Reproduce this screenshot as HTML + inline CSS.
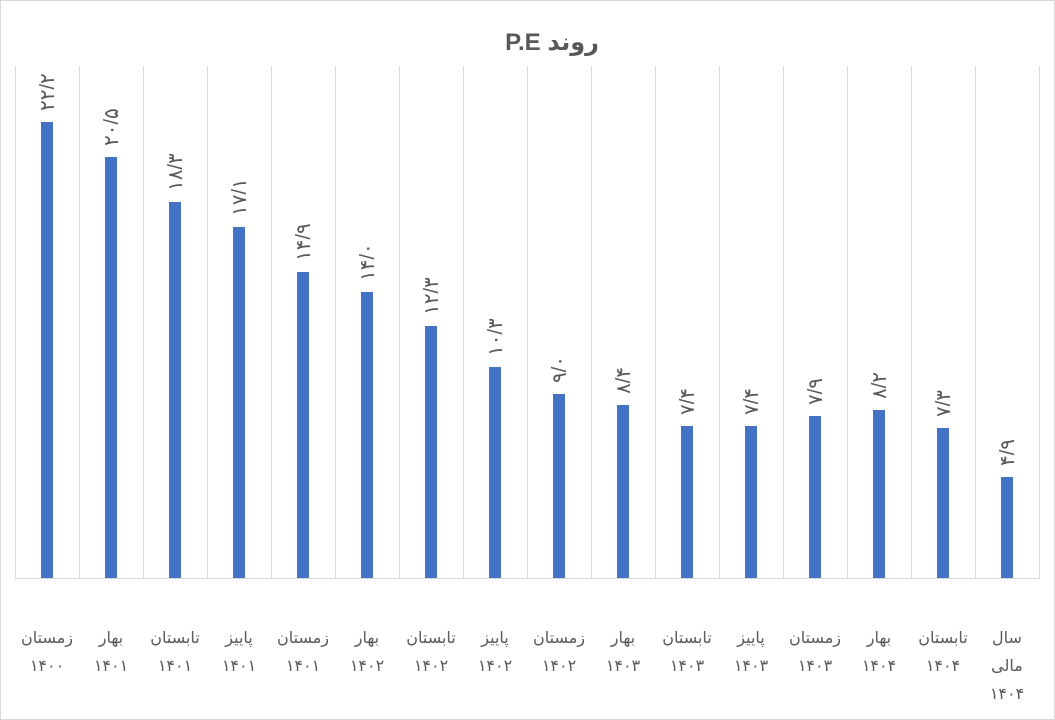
<!DOCTYPE html>
<html><head><meta charset="utf-8"><style>
html,body{margin:0;padding:0;background:#fff}
svg{display:block}
text{font-family:"Liberation Sans","DejaVu Sans",sans-serif;fill:#595959}
.v{unicode-bidi:bidi-override;direction:ltr;font-size:20px;letter-spacing:2px}
</style></head><body>
<svg width="1055" height="720" viewBox="0 0 1055 720" xmlns="http://www.w3.org/2000/svg">
<rect x="0.5" y="0.5" width="1054" height="719" fill="#fff" stroke="#d9d9d9"/>
<text x="552" y="50" text-anchor="middle" font-size="24" font-weight="bold" direction="rtl">روند P.E</text>
<g stroke="#d9d9d9" stroke-width="1">
<line x1="15.5" y1="66" x2="15.5" y2="578"/><line x1="79.5" y1="66" x2="79.5" y2="578"/><line x1="143.5" y1="66" x2="143.5" y2="578"/><line x1="207.5" y1="66" x2="207.5" y2="578"/><line x1="271.5" y1="66" x2="271.5" y2="578"/><line x1="335.5" y1="66" x2="335.5" y2="578"/><line x1="399.5" y1="66" x2="399.5" y2="578"/><line x1="463.5" y1="66" x2="463.5" y2="578"/><line x1="527.5" y1="66" x2="527.5" y2="578"/><line x1="591.5" y1="66" x2="591.5" y2="578"/><line x1="655.5" y1="66" x2="655.5" y2="578"/><line x1="719.5" y1="66" x2="719.5" y2="578"/><line x1="783.5" y1="66" x2="783.5" y2="578"/><line x1="847.5" y1="66" x2="847.5" y2="578"/><line x1="911.5" y1="66" x2="911.5" y2="578"/><line x1="975.5" y1="66" x2="975.5" y2="578"/><line x1="1039.5" y1="66" x2="1039.5" y2="578"/>
<line x1="15" y1="578.5" x2="1040" y2="578.5"/>
</g>
<g fill="#4472c4">
<rect x="41" y="122" width="12" height="456"/>
<rect x="105" y="157" width="12" height="421"/>
<rect x="169" y="202" width="12" height="376"/>
<rect x="233" y="227" width="12" height="351"/>
<rect x="297" y="272" width="12" height="306"/>
<rect x="361" y="292" width="12" height="286"/>
<rect x="425" y="326" width="12" height="252"/>
<rect x="489" y="367" width="12" height="211"/>
<rect x="553" y="394" width="12" height="184"/>
<rect x="617" y="405" width="12" height="173"/>
<rect x="681" y="426" width="12" height="152"/>
<rect x="745" y="426" width="12" height="152"/>
<rect x="809" y="416" width="12" height="162"/>
<rect x="873" y="410" width="12" height="168"/>
<rect x="937" y="428" width="12" height="150"/>
<rect x="1001" y="477" width="12" height="101"/>
</g>
<g>
<text class="v" transform="translate(54,111) rotate(-90)">۲۲/۲</text>
<text class="v" transform="translate(118,146) rotate(-90)">۲۰/۵</text>
<text class="v" transform="translate(182,191) rotate(-90)">۱۸/۳</text>
<text class="v" transform="translate(246,216) rotate(-90)">۱۷/۱</text>
<text class="v" transform="translate(310,261) rotate(-90)">۱۴/۹</text>
<text class="v" transform="translate(374,281) rotate(-90)">۱۴/۰</text>
<text class="v" transform="translate(438,315) rotate(-90)">۱۲/۳</text>
<text class="v" transform="translate(502,356) rotate(-90)">۱۰/۳</text>
<text class="v" transform="translate(566,383) rotate(-90)">۹/۰</text>
<text class="v" transform="translate(630,394) rotate(-90)">۸/۴</text>
<text class="v" transform="translate(694,415) rotate(-90)">۷/۴</text>
<text class="v" transform="translate(758,415) rotate(-90)">۷/۴</text>
<text class="v" transform="translate(822,405) rotate(-90)">۷/۹</text>
<text class="v" transform="translate(886,399) rotate(-90)">۸/۲</text>
<text class="v" transform="translate(950,417) rotate(-90)">۷/۳</text>
<text class="v" transform="translate(1014,466) rotate(-90)">۴/۹</text>
</g>
<g font-size="16" text-anchor="middle" direction="rtl">
<text x="47" y="643">زمستان</text><text x="47" y="671">۱۴۰۰</text>
<text x="111" y="643">بهار</text><text x="111" y="671">۱۴۰۱</text>
<text x="175" y="643">تابستان</text><text x="175" y="671">۱۴۰۱</text>
<text x="239" y="643">پاییز</text><text x="239" y="671">۱۴۰۱</text>
<text x="303" y="643">زمستان</text><text x="303" y="671">۱۴۰۱</text>
<text x="367" y="643">بهار</text><text x="367" y="671">۱۴۰۲</text>
<text x="431" y="643">تابستان</text><text x="431" y="671">۱۴۰۲</text>
<text x="495" y="643">پاییز</text><text x="495" y="671">۱۴۰۲</text>
<text x="559" y="643">زمستان</text><text x="559" y="671">۱۴۰۲</text>
<text x="623" y="643">بهار</text><text x="623" y="671">۱۴۰۳</text>
<text x="687" y="643">تابستان</text><text x="687" y="671">۱۴۰۳</text>
<text x="751" y="643">پاییز</text><text x="751" y="671">۱۴۰۳</text>
<text x="815" y="643">زمستان</text><text x="815" y="671">۱۴۰۳</text>
<text x="879" y="643">بهار</text><text x="879" y="671">۱۴۰۴</text>
<text x="943" y="643">تابستان</text><text x="943" y="671">۱۴۰۴</text>
<text x="1007" y="643">سال</text><text x="1007" y="671">مالی</text><text x="1007" y="699">۱۴۰۴</text>
</g>
</svg>
</body></html>
